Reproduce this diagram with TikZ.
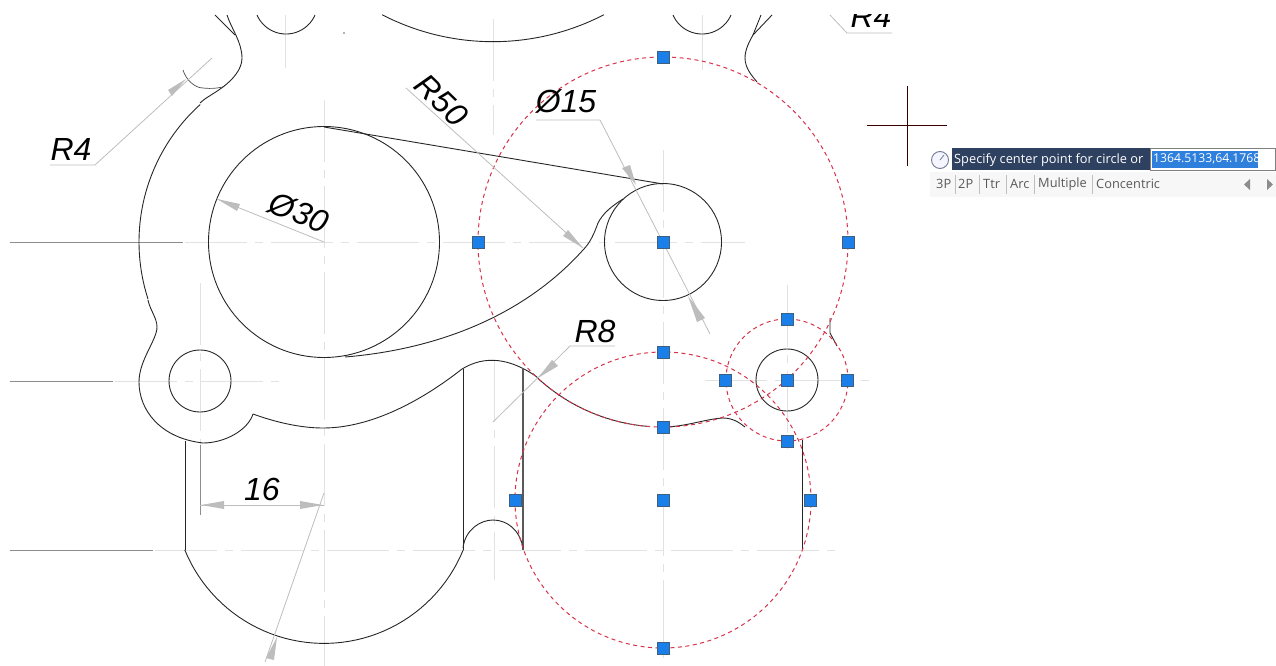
\documentclass[tikz,border=0pt]{standalone}
\usepackage{fontspec}
\setmainfont{Liberation Sans}
\newfontfamily\uifont{Open Sans}
\usetikzlibrary{arrows.meta}
\definecolor{handleblue}{HTML}{1A7FE8}
\definecolor{handleedge}{HTML}{3F5F7F}
\definecolor{redline}{HTML}{D8324A}
\definecolor{dimgray}{HTML}{BDBDBD}
\definecolor{centerlight}{HTML}{E2E2E2}
\definecolor{navy}{HTML}{2F4160}
\definecolor{selblue}{HTML}{2F7FDC}
\newcommand{\arcat}[5]{plot[domain=#4:#5,samples=50] ({#1+#3*cos(\x)},{#2+#3*sin(\x)})}
\tikzset{
  x=1pt,y=-1pt,
  part/.style={draw=black!85,line width=0.9pt,line join=round},
  hidden/.style={draw=black!70,line width=0.7pt},
  center/.style={draw=centerlight,line width=1pt,dash pattern=on 62pt off 8pt on 8pt off 8pt},
  leadgray/.style={draw=black!45,line width=0.8pt},
  dimline/.style={draw=dimgray,line width=0.8pt},
  dimhead/.style={fill=dimgray,draw=none},
  construct/.style={draw=redline,line width=1pt,dash pattern=on 4pt off 3.5pt},
  grip/.style={rectangle,draw=handleedge,fill=handleblue,line width=0.9pt,minimum size=12pt,inner sep=0pt},
  dimtext/.style={font=\fontsize{32}{32}\selectfont\itshape,text=black,inner sep=0pt},
  uitext/.style={font=\uifont\fontsize{12.8}{14}\selectfont,inner sep=0pt},
}
\begin{document}
\begin{tikzpicture}
\path[use as bounding box] (0,0) rectangle (1276,666);
% centre lines
\foreach \yy/\xa/\xb in {242/185/745,381/115/283,550/155/835,380/705/870}
  \draw[center] (\xa,\yy) -- (\xb,\yy);
\draw[leadgray] (10,242) -- (183,242);
\draw[leadgray] (10,381) -- (113,381);
\draw[leadgray] (10,550) -- (153,550);
\foreach \xx/\ya/\yb in {324/100/666,200/283/445,494/360/580,493/19/135,663/150/660,787/285/450,285/15/68,702/15/70}
  \draw[center] (\xx,\ya) -- (\xx,\yb);
\draw[leadgray] (200,445) -- (200,515);
% part outline
\draw[part] (215,15) -- (225,25) -- (235,35);
\draw[part] (227,15) .. controls (231,28) and (242,42) .. (242,58) .. controls (242,70) and (232,80) .. (223,87) .. controls (212,95) and (205,98) .. (200,103);
\draw[part] \arcat{324}{242}{185}{162}{228};
\draw[part] (148,300) .. controls (150,310) and (157,318) .. (157,327) .. controls (157,340) and (139,360) .. (139,382) .. controls (139,410) and (160,438) .. (203,443) .. controls (225,443) and (248,430) .. (253,414) .. controls (275,422) and (300,428) .. (323,428) .. controls (370,428) and (420,402) .. (462,369) .. controls (485,355) and (510,358) .. (537,377);
\draw[part] \arcat{663}{242}{185}{95}{133};
\draw[part] (663,427) .. controls (685,427) and (705,419) .. (723,418) .. controls (733,418) and (740,423) .. (745,427);
\draw[part] (185,441) -- (185,550);
\draw[part] (463,369) -- (463,550);
\draw[part,draw=black!65,line width=1.1pt] (523,368) -- (523,550);
\draw[part] (802,440) -- (802,550);
\draw[part] \arcat{324}{493}{150.4}{22.2}{157.8};
\draw[part] (463,548) .. controls (465,530) and (480,520) .. (493,520) .. controls (507,520) and (520,530) .. (523,548);
\draw[part] (830,318) -- (830,333) -- (837,346);
\draw[part] (761,15) -- (753,35) .. controls (749,42) and (745,50) .. (745,58) .. controls (745,68) and (752,76) .. (757,82);
\draw[part] (772,15) -- (753,35);
\draw[part] \arcat{493}{-200}{241.7}{62.7}{117.3};
\draw[part] \arcat{286}{2.4}{31.6}{23.5}{156.5};
\draw[part] \arcat{702}{2.4}{31.6}{23.5}{156.5};
\draw[hidden] (183,70) .. controls (186,80) and (195,88) .. (203,88) .. controls (212,89) and (218,88) .. (223,87);
\fill[black!60] (344,33) circle[radius=0.8pt];
% circles
\draw[part] (324,242) circle[radius=115.5pt];
\draw[part] (200,381) circle[radius=31pt];
\draw[part] (663,242) circle[radius=58.5pt];
\draw[part] (787,380) circle[radius=31pt];
\draw[part] (324,127) -- (663,184);
\draw[part] (345,357) .. controls (430,350) and (520,320) .. (583,250) .. controls (590,243) and (594,234) .. (598,223) .. controls (603,213) and (612,206) .. (623,199);
% construction circles
\draw[construct] (663,242) circle[radius=185pt];
\draw[construct] (663,500) circle[radius=148pt];
\draw[construct] (787,380) circle[radius=61pt];
% dimensions
\draw[dimline] (50,165) -- (95,165) -- (212,58);
\fill[dimhead] (186,79) -- (168,90) -- (172,96) -- cycle;
\draw[dimline] (324,242) -- (217,199);
\fill[dimhead] (217,199) -- (240,204) -- (237,211) -- cycle;
\draw[dimline] (406,88) -- (583,248);
\fill[dimhead] (583,248) -- (563,236) -- (568,230) -- cycle;
\draw[dimline] (536,120) -- (600,120) -- (710,334);
\fill[dimhead] (636,185) -- (622,168) -- (630,165) -- cycle;
\fill[dimhead] (688,296) -- (705,318) -- (697,322) -- cycle;
\draw[dimline] (570,346) -- (615,346) (570,346) -- (493,422);
\fill[dimhead] (538,378) -- (552,360) -- (558,366) -- cycle;
\draw[dimline] (200,505) -- (324,505);
\fill[dimhead] (201,505) -- (224,501) -- (224,509) -- cycle;
\fill[dimhead] (323,505) -- (300,501) -- (300,509) -- cycle;
\draw[dimline] (324,493) -- (265,662);
\fill[dimhead] (277,637) -- (266,658) -- (274,660) -- cycle;
\draw[dimline] (830,15) -- (847,33) -- (892,33);
\node[dimtext,anchor=base] (rfourleft) at (71,160) {R4};
\node[dimtext,anchor=base] (rfifty) at (434,108) [rotate=-44] {R50};
\node[dimtext,anchor=base] (dfifteen) at (566,113) {Ø15};
\node[dimtext,anchor=base] (dthirty) at (295,223) [rotate=-22] {Ø30};
\node[dimtext,anchor=base] (reight) at (595,342) {R8};
\node[dimtext,anchor=base] (sixteen) at (262,500) {16};
\begin{scope}
\clip (840,15) rectangle (900,40);
\node[dimtext,anchor=base] (rfourtop) at (871,28) {R4};
\end{scope}
% grips
\foreach \nm/\px/\py in {ga/663/57,gb/478/242,gc/848/242,gd/663/242,ge/663/427,gf/663/352,gg/663/500,gh/663/648,gi/515/500,gj/810/500,gk/787/319,gl/725/380,gm/847/380,gn/787/380,go/787/441}
  \node[grip] (\nm) at (\px,\py) {};
% crosshair
\draw[draw=black!75!red!90!black,line width=1pt] (867,126) -- (947,126) (907,86) -- (907,166);
% tooltip
\fill[black!3] (930,172) rectangle (1276,197);
\fill[navy] (952,148) rectangle (1150,170);
\draw[black!50,fill=white] (1150,148.5) rectangle (1275.5,170);
\fill[selblue] (1152,151) rectangle (1258,168);
\draw[navy!70,fill=blue!4,line width=0.9pt] (940,160) circle[radius=8.5pt];
\draw[navy!70,line width=0.8pt] (940,160) -- (944,155);
\node[uitext,text=white,anchor=west] (prompt) at (954,160) {Specify center point for circle or};
\node[uitext,font=\uifont\fontsize{12.2}{14}\selectfont,text=white,anchor=west] (coords) at (1153,159) {1364.5133,64.1768};
\node[uitext,text=black!65,anchor=west] (optA) at (936,184) {3P};
\node[uitext,text=black!65,anchor=west] (optB) at (958,184) {2P};
\node[uitext,text=black!65,anchor=west] (optC) at (983,184) {Ttr};
\node[uitext,text=black!65,anchor=west] (optD) at (1010,184) {Arc};
\node[uitext,text=black!65,anchor=west] (optE) at (1038,184) {Multiple};
\node[uitext,text=black!65,anchor=west] (optF) at (1096,184) {Concentric};
\foreach \xx in {955,979,1006,1034,1092}
  \draw[black!25,line width=0.8pt] (\xx,175) -- (\xx,194);
\fill[black!45] (1250,179) -- (1250,190) -- (1244,184.5) -- cycle;
\fill[black!45] (1267,179) -- (1267,190) -- (1273,184.5) -- cycle;
\end{tikzpicture}
\end{document}
